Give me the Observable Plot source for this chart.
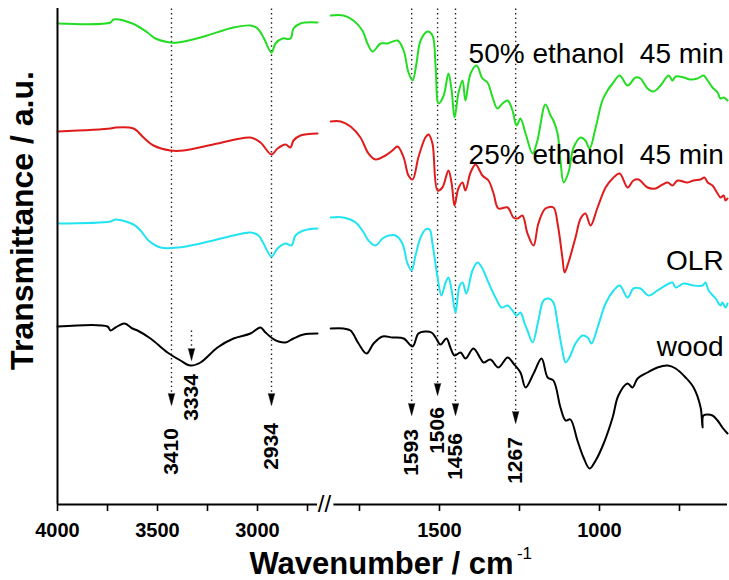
<!DOCTYPE html>
<html><head><meta charset="utf-8">
<script src="https://cdn.jsdelivr.net/npm/d3@7"></script>
<script src="https://cdn.jsdelivr.net/npm/@observablehq/plot@0.6"></script>
<style>body{margin:0;background:#fff}</style>
</head><body><div id="chart"></div>
<script>
// Series (wavenumber cm^-1, transmittance a.u. with vertical offsets)
const seriesNames = ["50% ethanol  45 min", "25% ethanol  45 min", "OLR", "wood"];
const seriesColors = ["#22dd22", "#e01b1b", "#22e4f0", "#000000"];

const ethanol50Left = [[4000,481],[3735,482],[3720,485],[3625,481],[3550,472],[3510,466],[3435,462],[3400,462],[3285,467],[3120,477],[3035,479],[3000,476],[2970,467],[2930,452],[2910,461],[2875,466],[2835,466],[2820,476],[2785,481],[2700,482]];
const ethanol50Right = [[1840,489],[1800,489],[1769,484],[1741,474],[1725,461],[1709,453],[1684,461],[1662,461],[1631,464],[1612,454],[1597,432],[1584,424],[1572,441],[1559,464],[1537,473],[1522,469],[1512,437],[1503,401],[1487,409],[1472,431],[1462,414],[1453,387],[1441,411],[1428,424],[1419,404],[1403,431],[1384,439],[1366,426],[1350,422],[1334,407],[1319,396],[1303,401],[1287,404],[1272,394],[1259,379],[1247,386],[1231,371],[1209,351],[1194,364],[1169,400],[1153,389],[1144,384],[1131,371],[1122,344],[1112,322],[1097,332],[1081,357],[1059,367],[1044,364],[1031,356],[1012,377],[991,404],[975,414],[959,421],[937,429],[912,419],[887,427],[872,426],[850,416],[831,413],[809,419],[784,429],[772,424],[762,428],[737,427],[716,425],[694,426],[675,429],[662,424],[647,417],[631,412],[622,406],[612,407],[600,404]];

const ethanol25Left = [[4000,373],[3735,376],[3710,377],[3620,376],[3570,367],[3520,359],[3435,354],[3370,354],[3200,361],[3035,367],[2985,362],[2930,350],[2900,356],[2860,360],[2835,357],[2820,364],[2785,369],[2700,371]];
const ethanol25Right = [[1840,383],[1809,383],[1778,378],[1747,367],[1722,351],[1700,345],[1669,349],[1647,354],[1631,358],[1612,347],[1597,329],[1584,325],[1566,347],[1544,367],[1534,370],[1522,361],[1506,314],[1491,317],[1472,334],[1462,321],[1453,299],[1441,316],[1428,322],[1419,314],[1403,332],[1387,340],[1366,329],[1347,324],[1331,311],[1316,296],[1287,297],[1269,287],[1256,286],[1241,289],[1225,271],[1206,259],[1191,281],[1169,296],[1144,297],[1131,281],[1116,247],[1109,232],[1097,242],[1075,267],[1059,286],[1044,291],[1028,279],[1006,297],[981,317],[959,326],[937,331],[912,317],[894,324],[878,325],[850,317],[825,316],[803,320],[787,322],[772,319],[756,324],[725,322],[706,324],[684,325],[672,327],[662,322],[647,319],[631,311],[622,307],[612,309],[606,304],[600,306]];

const olrLeft = [[4000,281],[3735,283],[3710,285],[3620,280],[3585,274],[3545,264],[3485,257],[3400,257],[3285,261],[3120,269],[3035,272],[2995,269],[2970,261],[2930,248],[2900,256],[2860,261],[2830,259],[2810,269],[2770,274],[2700,276]];
const olrRight = [[1840,287],[1800,287],[1762,282],[1737,272],[1722,264],[1700,259],[1678,266],[1659,269],[1637,269],[1616,261],[1600,241],[1587,234],[1575,249],[1559,267],[1544,275],[1531,275],[1522,261],[1506,227],[1494,209],[1481,222],[1472,227],[1462,214],[1450,192],[1437,219],[1428,222],[1416,211],[1397,234],[1381,242],[1366,236],[1347,222],[1325,207],[1306,197],[1287,199],[1272,194],[1259,189],[1247,192],[1234,181],[1225,174],[1209,162],[1191,184],[1175,204],[1159,206],[1144,202],[1131,181],[1116,154],[1106,142],[1094,147],[1075,161],[1053,169],[1037,167],[1025,161],[1006,177],[981,201],[956,214],[937,219],[912,207],[894,216],[872,216],[847,209],[819,214],[794,219],[772,222],[762,217],[737,221],[706,219],[678,219],[669,222],[659,214],[637,206],[622,199],[616,202],[606,197],[600,201]];

const woodLeft = [[4000,178],[3750,178],[3735,174],[3710,177],[3665,181],[3625,176],[3600,174],[3535,166],[3450,152],[3385,144],[3335,139],[3285,142],[3200,157],[3120,166],[3035,171],[2985,177],[2960,172],[2925,166],[2895,163],[2860,162],[2820,166],[2770,170],[2700,171]];
const woodRight = [[1840,176],[1800,176],[1778,174],[1753,161],[1728,151],[1706,161],[1678,168],[1647,167],[1612,166],[1584,158],[1566,171],[1544,173],[1525,172],[1512,167],[1497,160],[1478,166],[1466,157],[1453,149],[1434,152],[1419,146],[1394,156],[1372,146],[1362,142],[1341,145],[1316,137],[1287,147],[1269,141],[1247,132],[1231,117],[1206,131],[1181,146],[1162,127],[1144,124],[1122,97],[1106,84],[1091,85],[1069,64],[1050,47],[1031,36],[1012,44],[987,61],[959,87],[941,109],[912,121],[897,117],[881,126],[850,132],[819,137],[787,139],[762,136],[731,127],[706,117],[684,97],[678,77],[675,89],[647,89],[631,84],[616,77],[600,71]];

// Band annotations
const markLabel = ["3410", "3334", "2934", "1593", "1506", "1456", "1267"];
const markWn = [3430, 3330, 2930, 1587, 1506, 1450, 1262];
const markTop = [496, 174, 496, 496, 496, 496, 496];
const markTip = [99, 144, 99, 89, 109, 89, 81];
const markTextY = [53, 107, 58, 52, 74, 48, 44];

// Series label positions
const labelWn = [1409, 1409, 612, 612];
const labelT = [442, 341, 235, 149];

// Axis
const tickValues = [4000, 3750, 3500, 3250, 3000, 2750, 1750, 1500, 1250, 1000, 750];
const tickLabels = [4000, 3500, 3000, 1500, 1000];
const axisFrom = [4000, 1830];
const axisTo = [2700, 600];

const segs = [
  [0, "L", ethanol50Left], [0, "R", ethanol50Right],
  [1, "L", ethanol25Left], [1, "R", ethanol25Right],
  [2, "L", olrLeft], [2, "R", olrRight],
  [3, "L", woodLeft], [3, "R", woodRight]
];
const rows = segs.flatMap(([s, side, pts]) => pts.map(([wn, t]) => ({series: seriesNames[s], key: s + side, wn, t})));
const markIdx = d3.range(markWn.length);

const plot = Plot.plot({
  width: 729, height: 580,
  marginTop: 8, marginBottom: 76, marginLeft: 57, marginRight: 2,
  x: {type: "linear", domain: [4000, 2700, 1850, 600], range: [57, 317, 327, 727]},
  y: {domain: [0, 496], axis: null},
  color: {domain: seriesNames, range: seriesColors},
  style: {fontFamily: "'Liberation Sans', Arial, sans-serif", background: "white", color: "black"},
  marks: [
    Plot.link(markIdx, {x1: i => markWn[i], x2: i => markWn[i], y1: i => markTop[i], y2: i => markTip[i] + 8,
      stroke: "#222", strokeWidth: 1.4, strokeDasharray: "1.4 3.2"}),
    Plot.line(rows, {x: "wn", y: "t", z: "key", stroke: "series", strokeWidth: 2, curve: "catmull-rom"}),
    Plot.vector(markIdx, {x: i => markWn[i], y: i => markTip[i], length: 12, rotate: 180, shape: "spike",
      anchor: "end", r: 3.2, fill: "black", stroke: "black", strokeWidth: 0.5}),
    Plot.text(markIdx, {x: i => markWn[i], y: i => markTextY[i], text: i => markLabel[i], rotate: -90,
      fontSize: 21, fontWeight: "bold", fill: "black"}),
    Plot.ruleX([4000], {stroke: "black", strokeWidth: 2}),
    Plot.ruleY(d3.range(axisFrom.length), {x1: i => axisFrom[i], x2: i => axisTo[i], y: () => 0, stroke: "black", strokeWidth: 2}),
    Plot.text(["//"], {x: () => 2105, y: () => 0, text: d => d, fontSize: 24, fill: "black"}),
    Plot.axisX({ticks: tickValues, tickFormat: d => tickLabels.includes(d) ? String(d) : "", tickSize: 7, tickPadding: 11,
      fontSize: 20, fontWeight: "bold", strokeWidth: 1.6, label: null}),
    Plot.text([0, 1], {x: i => labelWn[i], y: i => labelT[i], text: i => seriesNames[i], textAnchor: "start",
      lineAnchor: "bottom", fontSize: 28, fill: "black"}),
    Plot.text([2, 3], {x: i => labelWn[i], y: i => labelT[i], text: i => seriesNames[i], textAnchor: "end",
      lineAnchor: "bottom", fontSize: 28, fill: "black"}),
    Plot.text(["Transmittance / a.u."], {x: () => 4175, y: () => 284, text: d => d, rotate: -90,
      fontSize: 32, fontWeight: "bold", fill: "black"}),
    Plot.text(["Wavenumber / cm"], {x: () => 1681, y: () => -69, text: d => d, lineAnchor: "bottom",
      fontSize: 31, fontWeight: "bold", fill: "black"}),
    Plot.text(["-1"], {x: () => 1258, y: () => -54, text: d => d, lineAnchor: "bottom", textAnchor: "start",
      fontSize: 17, fill: "black"})
  ]
});
document.getElementById("chart").append(plot);
</script></body></html>
